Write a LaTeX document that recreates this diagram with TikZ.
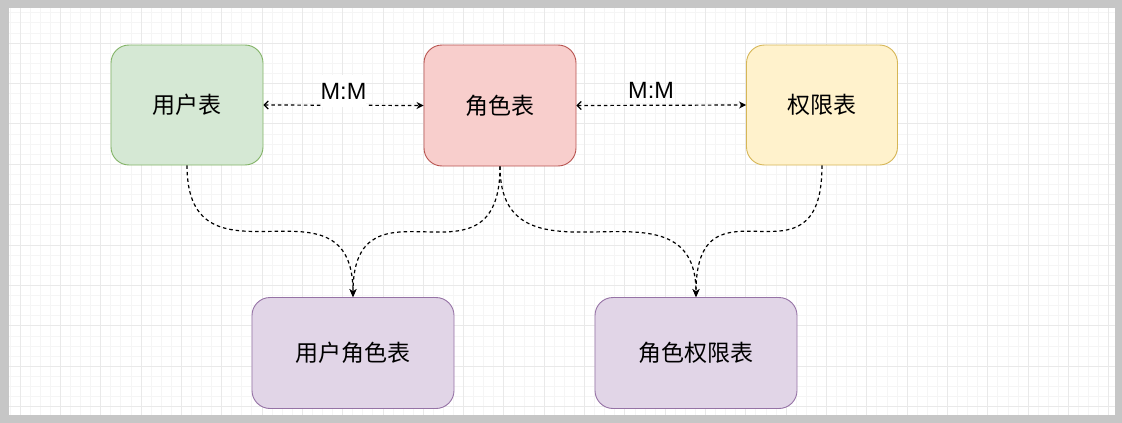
\documentclass[tikz,border=0pt]{standalone}
\usepackage{fontspec}
\setmainfont{Liberation Sans}
\newfontfamily\cjk{Noto Sans CJK SC}
\usetikzlibrary{arrows.meta}
\definecolor{frm}{HTML}{C6C6C6}
\definecolor{gmin}{HTML}{F5F5F5}
\definecolor{gmaj}{HTML}{E9E9E9}
\definecolor{grnf}{HTML}{D5E8D4}\definecolor{grnd}{HTML}{82B366}
\definecolor{redf}{HTML}{F8CECC}\definecolor{redd}{HTML}{B85450}
\definecolor{ylwf}{HTML}{FFF2CC}\definecolor{ylwd}{HTML}{D6B656}
\definecolor{prpf}{HTML}{E1D5E7}\definecolor{prpd}{HTML}{9673A6}
\begin{document}
\begin{tikzpicture}[x=1pt,y=-1pt,
 tbl/.style={draw,line width=0.9pt,rounded corners=18pt,font=\cjk\fontsize{23}{27}\selectfont},
 rel/.style={line width=1.2pt,dash pattern=on 3.5pt off 3pt},
 mm/.style={font=\fontsize{23.5}{27}\selectfont,anchor=base,inner xsep=0pt}]
\pgfmathsetmacro{\gx}{10.08}
\pgfmathsetmacro{\gy}{10.1}
\fill[frm](0,0) rectangle (1122,423);
\fill[white](9,8) rectangle (1115,415);
\foreach \k in {-1,...,108}{\draw[gmin,line width=0.7pt]({20+\k*\gx},8)--++(0,407);}
\foreach \k in {-3,...,36}{\draw[gmin,line width=0.7pt](9,{43+\k*\gy})--++(1106,0);}
\foreach \k in {0,...,27}{\draw[gmaj,line width=0.7pt]({20+4*\k*\gx},8)--++(0,407);}
\foreach \k in {-0,...,9}{\draw[gmaj,line width=0.7pt](9,{43+4*\k*\gy})--++(1106,0);}
% tables
\node[tbl,fill=grnf,draw=grnd,minimum width=152pt,minimum height=120pt](user) at (187,105){用户表};
\node[tbl,fill=redf,draw=redd,minimum width=152pt,minimum height=121pt](role) at (500,105.5){角色表};
\node[tbl,fill=ylwf,draw=ylwd,minimum width=151pt,minimum height=120pt](perm) at (822,105){权限表};
\node[tbl,fill=prpf,draw=prpd,minimum width=202pt,minimum height=111pt](userrole) at (353,353){用户角色表};
\node[tbl,fill=prpf,draw=prpd,minimum width=202pt,minimum height=111pt](roleperm) at (696,353){角色权限表};
% M:M
\draw[rel,{Straight Barb[length=4pt,width=8pt]}-{Stealth[length=7pt,width=7pt]}](user.east)--node[mm,fill=white,inner ysep=8pt,yshift=6pt]{M:M}(role.west);
\draw[rel,{Straight Barb[length=4pt,width=8pt]}-{Stealth[length=7pt,width=7pt]}](role.east)--node[mm,pos=0.44,inner ysep=0pt,yshift=7pt]{M:M}(perm.west);
% links
\foreach \a/\b in {user/userrole,role/userrole,role/roleperm,perm/roleperm}{\draw[rel,-{Stealth[length=8pt,width=7pt]}](\a.south)..controls +(0,133) and +(0,-131)..(\b.north);}
\end{tikzpicture}
\end{document}
